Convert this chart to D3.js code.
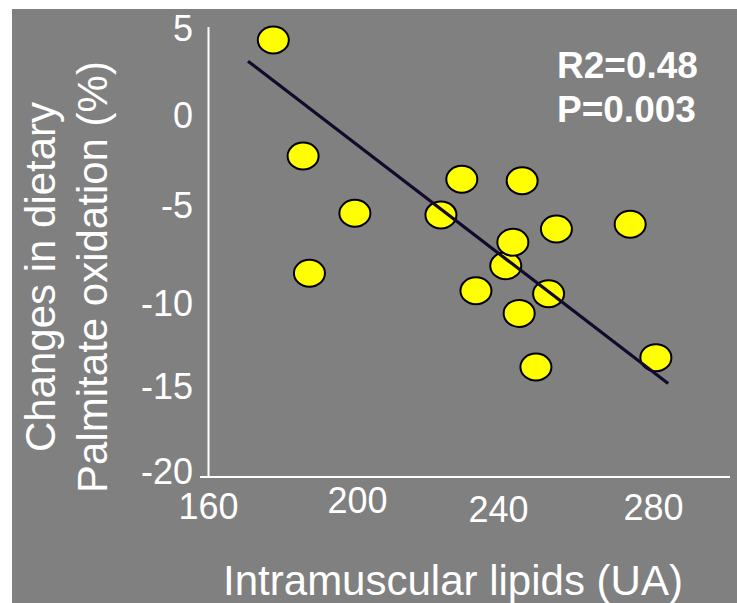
<!DOCTYPE html>
<html>
<head>
<meta charset="utf-8">
<script src="https://cdn.jsdelivr.net/npm/d3@7"></script>
<style>
  html, body { margin: 0; padding: 0; background: #ffffff; }
  svg { display: block; }
  text { font-family: "Liberation Sans", Arial, Helvetica, sans-serif; fill: #ffffff; }
</style>
</head>
<body>
<svg id="chart" width="737" height="603"></svg>
<script>
// ---- data ----
const lipids = [177.4, 185.4, 187.1, 199.3, 222.4, 228.0, 231.8, 239.8, 241.7, 243.4, 244.2, 247.9, 251.3, 253.4, 273.2, 280.1];
const oxidation = [4.28, -2.17, -8.68, -5.35, -5.44, -3.46, -9.65, -8.26, -6.96, -10.91, -3.54, -13.89, -9.82, -6.22, -5.96, -13.37];
const fitX = [170.6, 283.4];
const fitY = [3.1, -14.8];
const xTicks = [160, 200, 240, 280];
const yTicks = [5, 0, -5, -10, -15, -20];
const statsLines = ["R2=0.48", "P=0.003"];
const xTitle = "Intramuscular lipids (UA)";
const yTitleLines = ["Changes in dietary", "Palmitate oxidation (%)"];

// ---- layout (label nudges reproduce the hand-placed labels of the original) ----
const xLabelNudge = [0, -6, 3, 1];
const xLabelShift = [0, 0, -8, -2];
const yLabelNudge = [2, -1, -1, 7, 0, -5];

const svg = d3.select("#chart");
const W = 737, H = 603;

svg.append("rect").attr("x", 12).attr("y", 9).attr("width", W - 12).attr("height", H - 9).attr("fill", "#808080");

const x = d3.scaleLinear().domain([160, 300]).range([208.5, 730]);
const y = d3.scaleLinear().domain([-20, 5]).range([477, 27]);

// axes lines
svg.append("line").attr("x1", x(160)).attr("x2", x(160)).attr("y1", y(5)).attr("y2", y(-20))
  .attr("stroke", "#ffffff").attr("stroke-width", 2);
svg.append("line").attr("x1", 200).attr("x2", x(300)).attr("y1", y(-20)).attr("y2", y(-20))
  .attr("stroke", "#ffffff").attr("stroke-width", 2);

// y tick labels
svg.append("g").selectAll("text").data(yTicks).join("text")
  .attr("x", 193)
  .attr("y", (d, i) => y(d) + 12 + yLabelNudge[i])
  .attr("text-anchor", "end")
  .attr("font-size", 36)
  .text(d => d);

// x tick labels
svg.append("g").selectAll("text").data(xTicks).join("text")
  .attr("x", (d, i) => x(d) + xLabelShift[i])
  .attr("y", (d, i) => 519 + xLabelNudge[i])
  .attr("text-anchor", "middle")
  .attr("font-size", 36)
  .text(d => d);

// points
const pts = lipids.map((v, i) => ({ x: v, y: oxidation[i] }));
svg.append("g").selectAll("ellipse").data(pts).join("ellipse")
  .attr("cx", d => x(d.x))
  .attr("cy", d => y(d.y))
  .attr("rx", 15.5)
  .attr("ry", 13.5)
  .attr("fill", "#ffff00")
  .attr("stroke", "#000000")
  .attr("stroke-width", 2);

// regression line
svg.append("line")
  .attr("x1", x(fitX[0])).attr("y1", y(fitY[0]))
  .attr("x2", x(fitX[1])).attr("y2", y(fitY[1]))
  .attr("stroke", "#120a2a").attr("stroke-width", 3.2);

// stats text
svg.append("g").selectAll("text").data(statsLines).join("text")
  .attr("x", 557)
  .attr("y", (d, i) => 78 + i * 44)
  .attr("font-size", 37)
  .attr("font-weight", "bold")
  .text(d => d);

// axis titles
svg.append("text")
  .attr("x", 453).attr("y", 595)
  .attr("text-anchor", "middle")
  .attr("font-size", 42)
  .text(xTitle);

const ytx = [55, 107];
yTitleLines.forEach((t, i) => {
  svg.append("text")
    .attr("transform", `translate(${ytx[i]},277) rotate(-90)`)
    .attr("text-anchor", "middle")
    .attr("font-size", 42)
    .text(t);
});
</script>
</body>
</html>
